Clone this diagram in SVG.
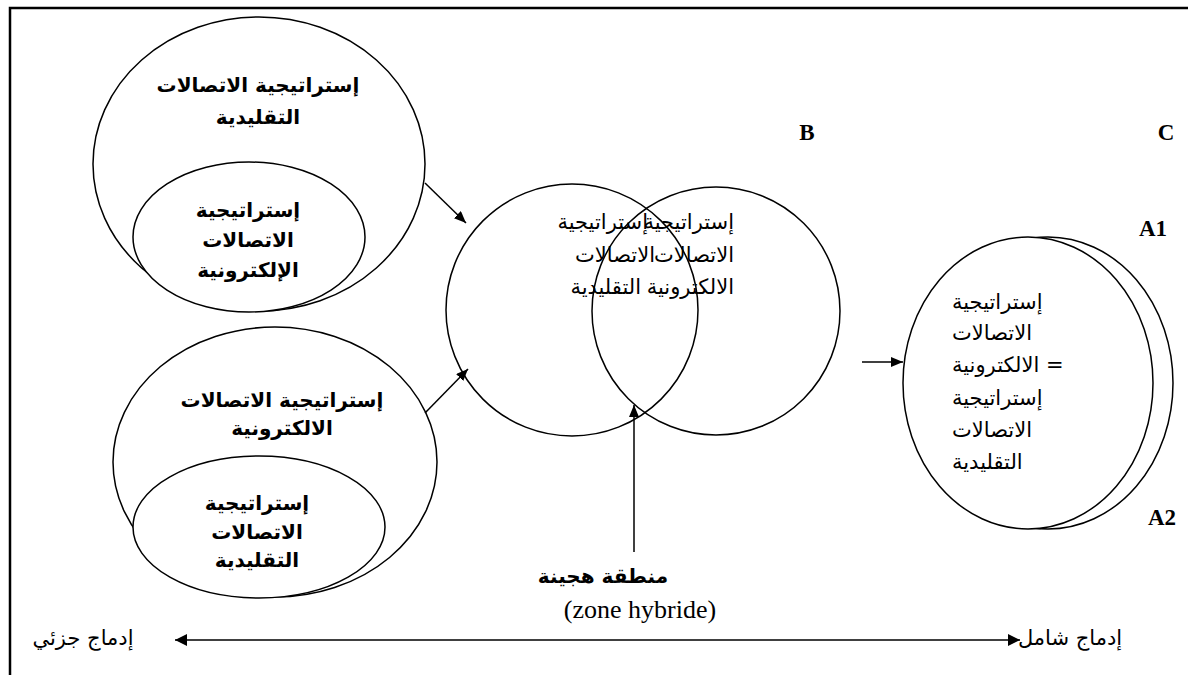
<svg xmlns="http://www.w3.org/2000/svg" width="1188" height="675" viewBox="0 0 1188 675">
  <style>
    .shape { fill: #fff; stroke: #000; stroke-width: 1.5; }
    .line { fill: none; stroke: #000; stroke-width: 1.5; }
    .ar { font-family: "DejaVu Sans", sans-serif; font-size: 21px; fill: #000; }
    .arb { font-family: "DejaVu Sans", sans-serif; font-size: 20px; font-weight: bold; fill: #000; }
    .lat { font-family: "Liberation Serif", "Times New Roman", serif; font-size: 26px; fill: #000; }
    .latb { font-family: "Liberation Serif", "Times New Roman", serif; font-size: 23px; font-weight: bold; fill: #000; }
  </style>
  <defs>
    <marker id="head" viewBox="0 0 12 10" refX="12" refY="5" markerWidth="12" markerHeight="10" markerUnits="userSpaceOnUse" orient="auto">
      <path d="M0,0 L12,5 L0,10 z" fill="#000"/>
    </marker>
    <marker id="headBig" viewBox="0 0 10 10" refX="10" refY="5" markerWidth="14" markerHeight="12" markerUnits="userSpaceOnUse" orient="auto-start-reverse">
      <path d="M0,0 L10,5 L0,10 z" fill="#000"/>
    </marker>
  </defs>

  <rect width="1188" height="675" fill="#fff"/>

  <!-- page frame -->
  <path d="M10,675 V8 H1188" fill="none" stroke="#000" stroke-width="2.5"/>

  <!-- traditional strategy containing the electronic one -->
  <g id="traditional-contains-electronic">
    <ellipse class="shape" cx="259" cy="164" rx="166" ry="147"/>
    <ellipse class="shape" cx="249" cy="237" rx="116" ry="75"/>
    <text class="arb" text-anchor="middle" x="258" y="92">إستراتيجية الاتصالات</text>
    <text class="arb" text-anchor="middle" x="258" y="124">التقليدية</text>
    <text class="arb" text-anchor="middle" x="248" y="217">إستراتيجية</text>
    <text class="arb" text-anchor="middle" x="248" y="247">الاتصالات</text>
    <text class="arb" text-anchor="middle" x="248" y="277">الإلكترونية</text>
  </g>

  <!-- electronic strategy containing the traditional one -->
  <g id="electronic-contains-traditional">
    <ellipse class="shape" cx="275" cy="462" rx="162" ry="135"/>
    <ellipse class="shape" cx="259" cy="527" rx="126" ry="71"/>
    <text class="arb" text-anchor="middle" x="282" y="407">إستراتيجية الاتصالات</text>
    <text class="arb" text-anchor="middle" x="282" y="435">الالكترونية</text>
    <text class="arb" text-anchor="middle" x="257" y="510">إستراتيجية</text>
    <text class="arb" text-anchor="middle" x="257" y="539">الاتصالات</text>
    <text class="arb" text-anchor="middle" x="257" y="567">التقليدية</text>
  </g>

  <!-- B: overlapping strategies -->
  <g id="hybrid-overlap">
    <circle class="line" cx="572" cy="310" r="126"/>
    <circle class="line" cx="716" cy="311" r="124"/>
    <text class="ar" text-anchor="end" x="648" y="229">إستراتيجية</text>
    <text class="ar" text-anchor="end" x="655" y="262">الاتصالات</text>
    <text class="ar" text-anchor="end" x="641" y="294">التقليدية</text>
    <text class="ar" text-anchor="end" x="734" y="229">إستراتيجية</text>
    <text class="ar" text-anchor="end" x="734" y="262">الاتصالات</text>
    <text class="ar" text-anchor="end" x="734" y="294">الالكترونية</text>
  </g>

  <!-- C: full integration -->
  <g id="full-integration">
    <ellipse class="shape" cx="1048" cy="383" rx="125" ry="146"/>
    <ellipse class="shape" cx="1028" cy="383" rx="125" ry="146"/>
    <text class="ar" x="952" y="309">إستراتيجية</text>
    <text class="ar" x="952" y="340">الاتصالات</text>
    <text class="ar" x="952" y="372">الالكترونية =</text>
    <text class="ar" x="952" y="405">إستراتيجية</text>
    <text class="ar" x="952" y="437">الاتصالات</text>
    <text class="ar" x="952" y="469">التقليدية</text>
  </g>

  <!-- letters -->
  <g id="labels">
    <text class="latb" text-anchor="middle" x="807" y="140">B</text>
    <text class="latb" text-anchor="middle" x="1166" y="140">C</text>
    <text class="latb" text-anchor="middle" x="1153" y="236">A1</text>
    <text class="latb" text-anchor="middle" x="1162" y="525">A2</text>
  </g>

  <!-- hybrid zone label -->
  <g id="hybrid-zone-label">
    <text class="arb" text-anchor="middle" x="603" y="583">منطقة هجينة</text>
    <text class="lat" text-anchor="middle" x="640" y="618">(zone hybride)</text>
  </g>

  <!-- integration scale -->
  <g id="scale-labels">
    <text class="ar" font-size="19" text-anchor="middle" x="83" y="645">إدماج جزئي</text>
    <text class="ar" font-size="19" text-anchor="middle" x="1070" y="645">إدماج شامل</text>
  </g>

  <g id="connectors">
    <line class="line" x1="425" y1="183" x2="466" y2="223" marker-end="url(#head)"/>
    <line class="line" x1="425" y1="413" x2="468" y2="369" marker-end="url(#head)"/>
    <line class="line" x1="634" y1="552" x2="634" y2="405" marker-end="url(#head)"/>
    <line class="line" x1="862" y1="362" x2="903" y2="362" marker-end="url(#head)"/>
    <line class="line" x1="175" y1="640" x2="1020" y2="640" marker-start="url(#headBig)" marker-end="url(#headBig)"/>
  </g>
</svg>
